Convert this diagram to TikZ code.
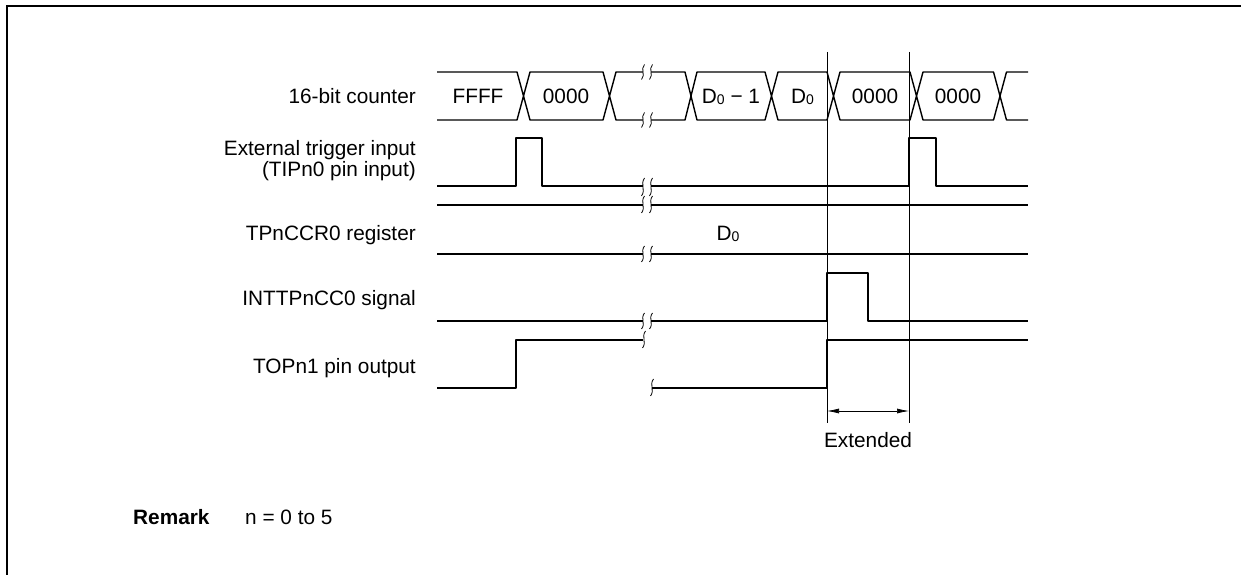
\documentclass[tikz,border=0pt]{standalone}
\usepackage{fontspec}
\setmainfont{Liberation Sans}
\usetikzlibrary{arrows.meta}
\newcommand\Dz{D\raisebox{-0.6pt}{\fontsize{14}{14}\selectfont 0}}
\newcommand\brkmark[3]{\draw[brk] ({#1+1.5},{#2}) .. controls ({#1-3},{#2+0.35*(#3-#2)}) and ({#1+3},{#3-0.35*(#3-#2)}) .. ({#1-1.5},{#3});}
\begin{document}
\begin{tikzpicture}[x=1pt,y=-1pt,
  sig/.style={line width=1.4pt, line join=round},
  guide/.style={line width=0.7pt},
  brk/.style={line width=0.8pt},
  txt/.style={font=\fontsize{20.8}{24}\selectfont, inner sep=0pt},
  lbl/.style={txt, anchor=base east},
  val/.style={txt, anchor=base}]
\useasboundingbox (0,0) rectangle (1241,575);
% frame
\draw[line width=2pt] (7,576) -- (7,6) -- (1242,6);

% labels
\node[lbl] (l1) at (416,104) {16-bit counter};
\node[lbl] (l2a) at (416,155) {External trigger input};
\node[lbl] (l2b) at (416,176) {(TIPn0 pin input)};
\node[lbl] (l3) at (416,240) {TPnCCR0 register};
\node[lbl] (l4) at (416,305) {INTTPnCC0 signal};
\node[lbl] (l5) at (416,373) {TOPn1 pin output};

% 16-bit counter bus
\draw[sig] (437,72) -- (517,72) -- (523.5,96) -- (530,72) -- (603,72) -- (609.5,96) -- (616,72) -- (643,72);
\draw[sig] (437,120) -- (517,120) -- (523.5,96) -- (530,120) -- (603,120) -- (609.5,96) -- (616,120) -- (643,120);
\draw[sig] (651,72) -- (685,72) -- (691,96) -- (697,72) -- (765,72) -- (771.5,96) -- (778,72) -- (827,72) -- (833.5,96) -- (840,72) -- (910,72) -- (916.5,96) -- (923,72) -- (993.5,72) -- (1000,96) -- (1006.5,72) -- (1028,72);
\draw[sig] (651,120) -- (685,120) -- (691,96) -- (697,120) -- (765,120) -- (771.5,96) -- (778,120) -- (827,120) -- (833.5,96) -- (840,120) -- (910,120) -- (916.5,96) -- (923,120) -- (993.5,120) -- (1000,96) -- (1006.5,120) -- (1028,120);
\brkmark{643}{64.5}{79.5}
\brkmark{651}{64.5}{79.5}
\brkmark{643}{112.5}{127.5}
\brkmark{651}{112.5}{127.5}
\node[val] (c1) at (478,103.5) {FFFF};
\node[val] (c2) at (566,103.5) {0000};
\node[val] (c3) at (731,103.5) {\Dz\ − 1};
\node[val] (c4) at (802.5,103.5) {\Dz};
\node[val] (c5) at (875,103.5) {0000};
\node[val] (c6) at (958,103.5) {0000};

% external trigger input
\draw[sig] (437,186) -- (516,186) -- (516,138) -- (542,138) -- (542,186) -- (643,186);
\draw[sig] (651,186) -- (909,186) -- (909,138) -- (936,138) -- (936,186) -- (1028,186);
% TPnCCR0 register
\draw[sig] (437,205) -- (643,205);
\draw[sig] (651,205) -- (1028,205);
\draw[sig] (437,254) -- (643,254);
\draw[sig] (651,254) -- (1028,254);
\brkmark{643}{178}{196}
\brkmark{643}{196}{213}
\brkmark{651}{178}{196}
\brkmark{651}{196}{213}
\brkmark{643}{246}{262}
\brkmark{651}{246}{262}
\node[val] (r1) at (728,240.5) {\Dz};

% INTTPnCC0 signal
\draw[sig] (437,321) -- (643,321);
\draw[sig] (651,321) -- (827,321) -- (827,273) -- (868,273) -- (868,321) -- (1028,321);
\brkmark{643}{313}{329}
\brkmark{651}{313}{329}

% TOPn1 pin output
\draw[sig] (437,388) -- (516,388) -- (516,340) -- (643,340);
\draw[sig] (652,388) -- (827,388) -- (827,340) -- (1028,340);
\brkmark{644}{331}{348}
\brkmark{652}{379}{396}

% guide lines and extension
\coordinate (g1t) at (827,52);
\coordinate (g1b) at (827,423);
\coordinate (g2t) at (909,52);
\coordinate (g2b) at (909,423);
\draw[guide] (g1t) -- (g1b);
\draw[guide] (g2t) -- (g2b);
\coordinate (a1) at (827,411);
\coordinate (a2) at (909,411);
\draw[guide, {Latex[length=12pt,width=5pt]}-{Latex[length=12pt,width=5pt]}] (a1) -- (a2);
\node[val] (ext) at (868,447) {Extended};

% remark
\node[txt, anchor=base west, font=\fontsize{20.8}{24}\selectfont\bfseries] (rm) at (133,524) {Remark};
\node[txt, anchor=base west] (rmt) at (245,524) {n = 0 to 5};
\end{tikzpicture}
\end{document}
